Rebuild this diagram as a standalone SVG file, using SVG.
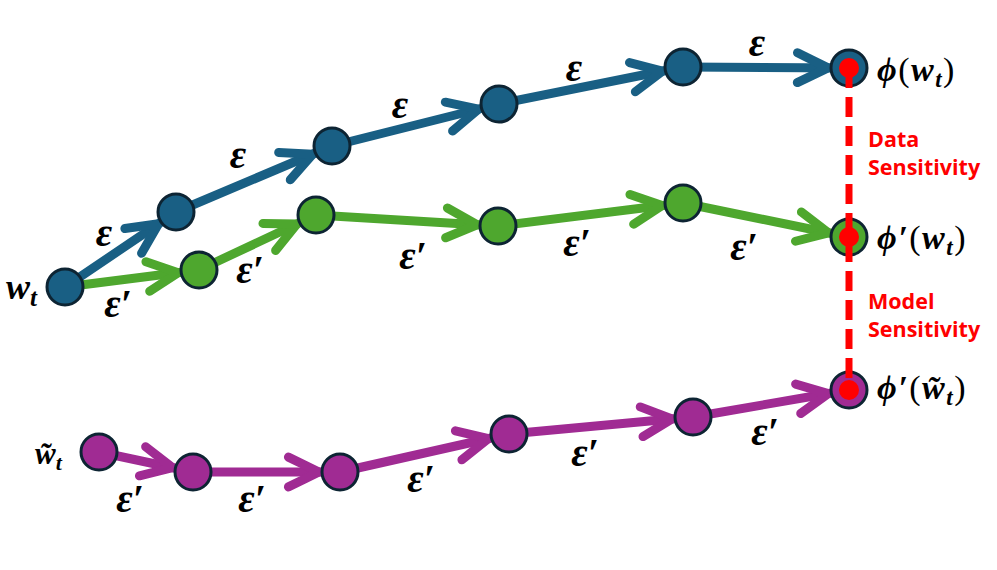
<svg xmlns="http://www.w3.org/2000/svg" width="997" height="570" viewBox="0 0 997 570">
<defs>
<style>
.cb{stroke:#195f84;stroke-width:9;stroke-linecap:round;fill:none}
.cg{stroke:#4ea72e;stroke-width:9;stroke-linecap:round;fill:none}
.cp{stroke:#a02b93;stroke-width:9;stroke-linecap:round;fill:none}
.nb{fill:#195f84;stroke:#0d2433;stroke-width:3}
.ng{fill:#4ea72e;stroke:#0d2433;stroke-width:3}
.np{fill:#a02b93;stroke:#0d2433;stroke-width:3}
.lab{font-family:"Liberation Serif","DejaVu Serif",serif;font-weight:bold;font-style:italic;font-size:40px;fill:#000;text-anchor:middle}
.math{font-family:"Liberation Serif","DejaVu Serif",serif;font-weight:bold;font-style:italic;fill:#000}
.rl{font-size:34px;letter-spacing:1.5px}
.par{font-weight:normal;font-style:normal}
.red{font-family:"Open Sans","Noto Sans",sans-serif;font-weight:bold;font-size:21.5px;fill:#ff0000}
</style>
<marker id="ab" markerUnits="userSpaceOnUse" viewBox="-60 -25 70 50" markerWidth="70" markerHeight="50" refX="0" refY="0" orient="auto" overflow="visible">
<polyline points="-51.6,-14.9 -21,0 -51.6,14.9" fill="none" stroke="#195f84" stroke-width="9" stroke-linecap="round" stroke-linejoin="round"/>
</marker>
<marker id="ag" markerUnits="userSpaceOnUse" viewBox="-60 -25 70 50" markerWidth="70" markerHeight="50" refX="0" refY="0" orient="auto" overflow="visible">
<polyline points="-51.6,-14.9 -21,0 -51.6,14.9" fill="none" stroke="#4ea72e" stroke-width="9" stroke-linecap="round" stroke-linejoin="round"/>
</marker>
<marker id="ap" markerUnits="userSpaceOnUse" viewBox="-60 -25 70 50" markerWidth="70" markerHeight="50" refX="0" refY="0" orient="auto" overflow="visible">
<polyline points="-51.6,-14.9 -21,0 -51.6,14.9" fill="none" stroke="#a02b93" stroke-width="9" stroke-linecap="round" stroke-linejoin="round"/>
</marker>
</defs>
<rect width="997" height="570" fill="#ffffff"/>
<g id="connectors">
<line class="cb" x1="65" y1="287" x2="176" y2="212" marker-end="url(#ab)"/>
<line class="cb" x1="176" y1="212" x2="332" y2="146" marker-end="url(#ab)"/>
<line class="cb" x1="332" y1="146" x2="499" y2="104" marker-end="url(#ab)"/>
<line class="cb" x1="499" y1="104" x2="683" y2="67" marker-end="url(#ab)"/>
<line class="cb" x1="683" y1="67" x2="849" y2="68" marker-end="url(#ab)"/>
<line class="cg" x1="65" y1="287" x2="199" y2="270" marker-end="url(#ag)"/>
<line class="cg" x1="199" y1="270" x2="316" y2="215" marker-end="url(#ag)"/>
<line class="cg" x1="316" y1="215" x2="498" y2="226" marker-end="url(#ag)"/>
<line class="cg" x1="498" y1="226" x2="683" y2="203" marker-end="url(#ag)"/>
<line class="cg" x1="683" y1="203" x2="849" y2="237" marker-end="url(#ag)"/>
<line class="cp" x1="99" y1="452" x2="193" y2="472" marker-end="url(#ap)"/>
<line class="cp" x1="193" y1="472" x2="340" y2="472" marker-end="url(#ap)"/>
<line class="cp" x1="340" y1="472" x2="509" y2="434" marker-end="url(#ap)"/>
<line class="cp" x1="509" y1="434" x2="693" y2="417" marker-end="url(#ap)"/>
<line class="cp" x1="693" y1="417" x2="849" y2="390" marker-end="url(#ap)"/>
</g>
<g id="blue-nodes">
<circle id="b0" class="nb" cx="65" cy="287" r="18"/>
<circle id="b1" class="nb" cx="176" cy="212" r="18"/>
<circle id="b2" class="nb" cx="332" cy="146" r="18"/>
<circle id="b3" class="nb" cx="499" cy="104" r="18"/>
<circle id="b4" class="nb" cx="683" cy="67" r="18"/>
<circle id="b5" class="nb" cx="849" cy="68" r="18"/>
</g>
<g id="green-nodes">
<circle id="g1" class="ng" cx="199" cy="270" r="18"/>
<circle id="g2" class="ng" cx="316" cy="215" r="18"/>
<circle id="g3" class="ng" cx="498" cy="226" r="18"/>
<circle id="g4" class="ng" cx="683" cy="203" r="18"/>
<circle id="g5" class="ng" cx="849" cy="237" r="18"/>
</g>
<g id="purple-nodes">
<circle id="p0" class="np" cx="99" cy="452" r="18"/>
<circle id="p1" class="np" cx="193" cy="472" r="18"/>
<circle id="p2" class="np" cx="340" cy="472" r="18"/>
<circle id="p3" class="np" cx="509" cy="434" r="18"/>
<circle id="p4" class="np" cx="693" cy="417" r="18"/>
<circle id="p5" class="np" cx="849" cy="390" r="18"/>
</g>
<g id="sensitivity">
<line x1="849" y1="68" x2="849" y2="390" stroke="#ff0000" stroke-width="7" stroke-dasharray="20 9"/>
<circle cx="849" cy="68" r="10" fill="#ff0000"/>
<circle cx="849" cy="237" r="10" fill="#ff0000"/>
<circle cx="849" cy="390" r="10" fill="#ff0000"/>
<text class="red" x="868" y="147">Data</text>
<text class="red" x="868" y="175">Sensitivity</text>
<text class="red" x="868" y="309">Model</text>
<text class="red" x="868" y="337">Sensitivity</text>
</g>
<g id="edge-labels">
<text class="lab" x="104" y="246">ε</text>
<text class="lab" x="238" y="168">ε</text>
<text class="lab" x="400" y="118">ε</text>
<text class="lab" x="574" y="81">ε</text>
<text class="lab" x="757" y="56">ε</text>
<text class="lab" x="118" y="317">ε′</text>
<text class="lab" x="250" y="283">ε′</text>
<text class="lab" x="413" y="269">ε′</text>
<text class="lab" x="577" y="256">ε′</text>
<text class="lab" x="744" y="260">ε′</text>
<text class="lab" x="130" y="512">ε′</text>
<text class="lab" x="252" y="512">ε′</text>
<text class="lab" x="421" y="492">ε′</text>
<text class="lab" x="585" y="466">ε′</text>
<text class="lab" x="765" y="445">ε′</text>
</g>
<g id="node-labels">
<text class="math" x="6" y="299" font-size="36">w<tspan font-size="25" dy="7">t</tspan></text>
<text class="math" x="35" y="464" font-size="31">w̃<tspan font-size="22" dy="6">t</tspan></text>
<text class="math rl" x="877" y="81">ϕ<tspan class="par">(</tspan>w<tspan font-size="23" dy="6">t</tspan><tspan class="par" dy="-6">)</tspan></text>
<text class="math rl" x="877" y="249">ϕ′<tspan class="par">(</tspan>w<tspan font-size="23" dy="6">t</tspan><tspan class="par" dy="-6">)</tspan></text>
<text class="math rl" x="877" y="399">ϕ′<tspan class="par">(</tspan>w̃<tspan font-size="23" dy="6">t</tspan><tspan class="par" dy="-6">)</tspan></text>
</g>
</svg>
